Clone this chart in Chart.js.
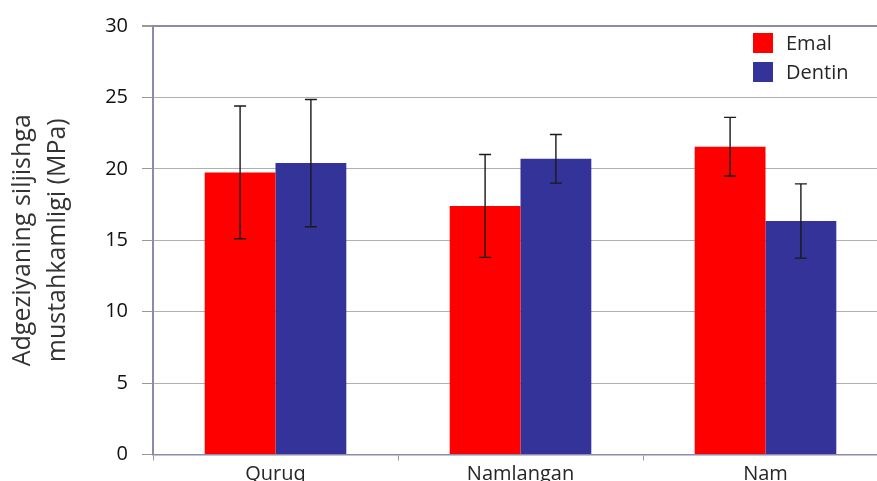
<!DOCTYPE html>
<html>
<head>
<meta charset="utf-8">
<script src="https://cdn.jsdelivr.net/npm/chart.js@4.4.1/dist/chart.umd.min.js"></script>
<style>
  html, body { margin: 0; padding: 0; background: #fff; overflow: hidden; }
  #wrap { width: 890px; height: 481px; }
</style>
</head>
<body>
<div id="wrap"><canvas id="chart" width="890" height="481"></canvas></div>
<script>
const categories = ['Quruq', 'Namlangan', 'Nam'];
const emalValues = [19.75, 17.4, 21.55];
const emalErrors = [4.65, 3.6, 2.05];
const dentinValues = [20.4, 20.7, 16.35];
const dentinErrors = [4.45, 1.7, 2.6];
const yTicks = [0, 5, 10, 15, 20, 25, 30];

const emalColor = '#FF0000';
const dentinColor = '#333399';
const axisColor = '#8a8aab';
const gridColor = '#b0b0b0';

const errorBars = {
    id: 'errorBars',
    afterDatasetsDraw(chart) {
        const ctx = chart.ctx;
        const y = chart.scales.y;
        ctx.save();
        ctx.strokeStyle = '#1a1a1a';
        ctx.lineWidth = 1.4;
        chart.data.datasets.forEach((ds, i) => {
            chart.getDatasetMeta(i).data.forEach((bar, j) => {
                const v = ds.data[j], e = ds.errors[j];
                const top = y.getPixelForValue(v + e);
                const bot = y.getPixelForValue(v - e);
                const x = bar.x;
                ctx.beginPath();
                ctx.moveTo(x, top); ctx.lineTo(x, bot);
                ctx.moveTo(x - 6, top); ctx.lineTo(x + 6, top);
                ctx.moveTo(x - 6, bot); ctx.lineTo(x + 6, bot);
                ctx.stroke();
            });
        });
        ctx.restore();
    }
};

const innerLegend = {
    id: 'innerLegend',
    afterDraw(chart) {
        const ctx = chart.ctx;
        const left = chart.chartArea.right - 135;
        ctx.save();
        ctx.font = '20px "Open Sans"';
        ctx.textBaseline = 'middle';
        chart.data.datasets.forEach((ds, i) => {
            const top = 33 + i * 29;
            ctx.fillStyle = ds.backgroundColor;
            ctx.fillRect(left, top, 20, 20);
            ctx.fillStyle = '#262626';
            ctx.fillText(ds.label, left + 33, top + 11);
        });
        ctx.restore();
    }
};

new Chart(document.getElementById('chart'), {
    type: 'bar',
    data: {
        labels: categories,
        datasets: [
            { label: 'Emal', data: emalValues, errors: emalErrors, backgroundColor: emalColor },
            { label: 'Dentin', data: dentinValues, errors: dentinErrors, backgroundColor: dentinColor }
        ]
    },
    options: {
        responsive: false,
        animation: false,
        categoryPercentage: 0.578,
        barPercentage: 1,
        layout: { padding: { top: 25, right: 2, left: 0, bottom: 0 } },
        plugins: {
            legend: { display: false },
            tooltip: { enabled: false }
        },
        scales: {
            x: {
                grid: {
                    offset: true,
                    drawOnChartArea: false,
                    tickLength: 6,
                    color: '#999'
                },
                border: { color: axisColor, width: 1.5 },
                ticks: {
                    color: '#262626',
                    padding: 2,
                    font: { family: 'Open Sans', size: 20 }
                },
                afterFit(scale) { scale.height = 26.5; }
            },
            y: {
                min: 0,
                max: 30,
                afterBuildTicks(scale) { scale.ticks = yTicks.map(v => ({ value: v })); },
                grid: {
                    color: ctx => (ctx.tick && ctx.tick.value === 30) ? axisColor : gridColor,
                    lineWidth: ctx => (ctx.tick && ctx.tick.value === 30) ? 2 : 1,
                    tickColor: '#999',
                    tickLength: 11
                },
                border: { color: axisColor, width: 2 },
                ticks: {
                    color: '#111',
                    padding: 14,
                    font: { family: 'Open Sans', size: 20 }
                },
                title: {
                    display: true,
                    text: ['Adgeziyaning siljishga', 'mustahkamligi (MPa)'],
                    color: '#333',
                    padding: { top: 5, bottom: 0 },
                    font: { family: 'Open Sans', size: 25, lineHeight: 1.4 }
                },
                afterFit(scale) { scale.width = 153; }
            }
        }
    },
    plugins: [errorBars, innerLegend]
});
</script>
</body>
</html>
